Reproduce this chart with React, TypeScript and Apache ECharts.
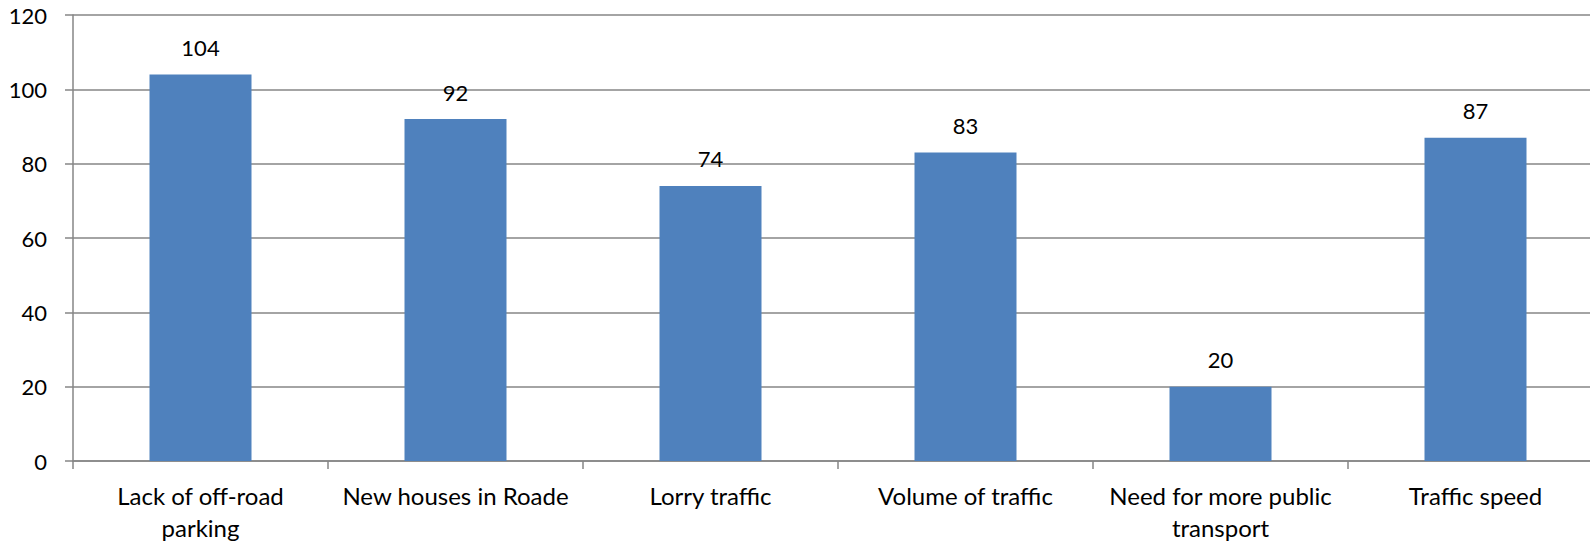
import React, { useEffect, useRef } from "react";
import * as echarts from "echarts";

const categories = [
  "Lack of off-road\nparking",
  "New houses in Roade",
  "Lorry traffic",
  "Volume of traffic",
  "Need for more public\ntransport",
  "Traffic speed",
];
const values = [104, 92, 74, 83, 20, 87];
const yTicks = { min: 0, max: 120, interval: 20 };

const FONT = "Lato, 'Open Sans', sans-serif";

export default function App() {
  const ref = useRef<HTMLDivElement>(null);
  useEffect(() => {
    if (!ref.current) return;
    const chart = echarts.init(ref.current, undefined, { renderer: "svg" });
    chart.setOption({
      animation: false,
      grid: { left: 73, right: 0, top: 15, bottom: 82, containLabel: false },
      xAxis: {
        type: "category",
        data: categories,
        axisLine: { lineStyle: { color: "#868686", width: 1.5 } },
        axisTick: { show: true, length: 8, lineStyle: { color: "#868686", width: 1.5 } },
        axisLabel: {
          color: "#000",
          fontSize: 24,
          fontFamily: FONT,
          lineHeight: 32,
          margin: 18,
          interval: 0,
        },
      },
      yAxis: {
        type: "value",
        min: yTicks.min,
        max: yTicks.max,
        interval: yTicks.interval,
        axisLine: { show: true, lineStyle: { color: "#868686", width: 1.5 } },
        axisTick: { show: true, length: 8, lineStyle: { color: "#868686", width: 1.5 } },
        splitLine: { lineStyle: { color: "#868686", width: 1.5 } },
        axisLabel: { color: "#000", fontSize: 22, fontFamily: FONT, margin: 26 },
      },
      series: [
        {
          type: "bar",
          data: values,
          barWidth: "40%",
          itemStyle: { color: "#4F81BD" },
          label: {
            show: true,
            position: "top",
            distance: 16,
            color: "#000",
            fontSize: 22,
            fontFamily: FONT,
          },
        },
      ],
    });
    return () => chart.dispose();
  }, []);
  return (
    <div style={{ position: "fixed", left: 0, top: 0, width: 1590, height: 543, overflow: "hidden", background: "#fff" }}>
      <div ref={ref} style={{ width: 1603, height: 543 }} />
    </div>
  );
}
